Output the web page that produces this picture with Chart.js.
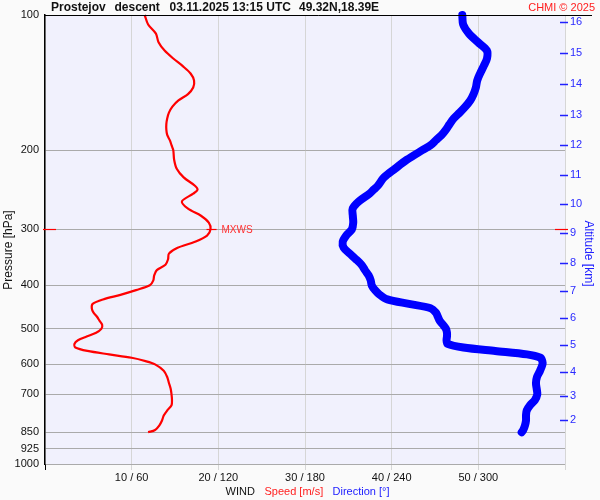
<!DOCTYPE html>
<html><head><meta charset="utf-8">
<script src="https://cdn.jsdelivr.net/npm/chart.js@4"></script>
<style>html,body{margin:0;padding:0;background:#fafafa}#c{display:block}</style>
</head><body>
<canvas id="c" width="600" height="500"></canvas>
<script>
// Pressure levels [hPa]
const pressure = [100,105,110,115,120,125,130,135,140,145,150,155,160,165,170,175,180,185,190,195,200,
  210,220,230,240,245,250,260,270,280,290,300,310,320,330,340,350,360,370,380,390,400,410,420,430,440,450,
  460,470,480,490,500,510,520,530,540,550,560,570,580,590,600,620,640,660,680,700,720,740,760,780,800,820,840,850];
// Wind speed [m/s]
const speed = [11.5,11.9,12.8,13.1,13.8,14.8,15.9,16.8,17.2,17.1,16.5,15.4,14.7,14.3,14.1,14.0,14.0,14.1,14.4,14.6,14.8,
  14.9,15.2,16.0,17.3,17.6,17.1,15.8,16.5,18.0,18.9,19.1,18.7,17.3,15.3,14.3,14.2,13.9,12.9,12.6,12.5,12.1,10.5,8.7,6.7,5.5,5.4,
  5.6,6.0,6.3,6.6,6.5,5.9,4.8,3.8,3.4,3.5,4.9,7.4,10.0,11.6,12.7,13.7,14.1,14.3,14.5,14.6,14.65,14.6,14.1,13.7,13.5,13.2,12.7,11.9];
// Wind direction [deg]
const direction = [288.9,289.5,293.5,299.8,305.9,306.0,303.7,301.2,299.2,298.3,296.7,294.4,291.0,287.1,283.0,280.1,277.6,274.6,270.7,266.9,261.2,
  250.6,242.3,234.7,230.4,227.5,224.7,217.4,213.0,213.1,213.4,212.5,208.5,206.1,206.8,211.0,215.3,219.1,221.5,224.0,225.5,226.2,228.5,231.8,237.0,252.0,267.0,
  270.6,272.0,273.3,275.6,277.6,278.3,278.3,278.0,278.7,289.7,311.7,333.7,343.0,344.3,344.4,342.7,340.6,339.9,340.4,340.8,339.2,335.8,333.5,333.0,333.0,332.3,331.1,330.0];

const pressureTicks = [100,200,300,400,500,600,700,850,925,1000];
const speedTicks = [0,10,20,30,40,50,60];
const speedTickLabels = ['','10 / 60','20 / 120','30 / 180','40 / 240','50 / 300',''];
const altitudeKm = [2,3,4,5,6,7,8,9,10,11,12,13,14,15,16];
const altitudePressure = [798.0,705.6,622.8,542.4,473.7,411.2,357.3,306.3,264.0,226.9,194.8,167.3,142.6,121.5,103.8];

const FONT = "'Liberation Sans', Arial, sans-serif";
Chart.defaults.font.family = FONT;
Chart.defaults.font.size = 11;
Chart.defaults.color = '#111';

const deco = {
  id: 'deco',
  beforeDraw(chart) {
    const {ctx, chartArea: a} = chart;
    ctx.save();
    ctx.fillStyle = '#fafafa';
    ctx.fillRect(0, 0, chart.width, chart.height);
    ctx.fillStyle = '#f1f1fd';
    ctx.fillRect(a.left, a.top, a.right - a.left, a.bottom - a.top);
    ctx.restore();
  },
  afterDraw(chart) {
    const {ctx, chartArea: a} = chart;
    const xs = chart.scales.x, ys = chart.scales.y, y2 = chart.scales.y2;
    ctx.save();
    // top line
    ctx.strokeStyle = '#000'; ctx.lineWidth = 1;
    ctx.beginPath(); ctx.moveTo(a.left, a.top + 0.5); ctx.lineTo(592, a.top + 0.5); ctx.stroke();
    // title
    ctx.fillStyle = '#111'; ctx.textBaseline = 'alphabetic'; ctx.textAlign = 'left';
    ctx.font = 'bold 12px ' + FONT;
    ctx.fillText('Prostejov', 51, 11);
    ctx.fillText('descent', 114.5, 11);
    ctx.fillText('03.11.2025 13:15 UTC', 169.5, 11);
    ctx.fillText('49.32N,18.39E', 299, 11);
    ctx.font = '11px ' + FONT; ctx.fillStyle = '#ff2020'; ctx.textAlign = 'right';
    ctx.fillText('CHMI \u00A9 2025', 595, 11);
    // bottom legend
    ctx.textAlign = 'left';
    ctx.fillStyle = '#111'; ctx.fillText('WIND', 225.5, 495);
    ctx.fillStyle = '#ff2020'; ctx.fillText('Speed [m/s]', 264.5, 495);
    ctx.fillStyle = '#2020ff'; ctx.fillText('Direction [\u00B0]', 332.5, 495);
    // axis titles
    ctx.font = '12px ' + FONT;
    ctx.save(); ctx.translate(8.5, 250); ctx.rotate(-Math.PI / 2);
    ctx.fillStyle = '#111'; ctx.textAlign = 'center'; ctx.textBaseline = 'middle';
    ctx.fillText('Pressure [hPa]', 0, 0); ctx.restore();
    ctx.save(); ctx.translate(588.5, 253.5); ctx.rotate(Math.PI / 2);
    ctx.fillStyle = '#2020ff'; ctx.textAlign = 'center'; ctx.textBaseline = 'middle';
    ctx.fillText('Altitude [km]', 0, 0); ctx.restore();
    // altitude tick dashes
    ctx.strokeStyle = '#2020ff'; ctx.lineWidth = 1.5;
    altitudePressure.forEach(p => {
      const y = Math.round(y2.getPixelForValue(p)) + 0.5;
      ctx.beginPath(); ctx.moveTo(a.right - 5, y); ctx.lineTo(a.right + 3, y); ctx.stroke();
    });
    // MXWS
    let im = 0;
    speed.forEach((s, i) => { if (s > speed[im]) im = i; });
    const my = Math.round(ys.getPixelForValue(pressure[im])) + 0.5;
    const mx = xs.getPixelForValue(speed[im]);
    ctx.strokeStyle = '#ff0000'; ctx.lineWidth = 1.2;
    ctx.beginPath(); ctx.moveTo(a.left - 2, my); ctx.lineTo(a.left + 11, my); ctx.stroke();
    ctx.beginPath(); ctx.moveTo(a.right - 10, my); ctx.lineTo(a.right + 3, my); ctx.stroke();
    ctx.beginPath(); ctx.moveTo(mx - 4, my); ctx.lineTo(mx + 6, my); ctx.stroke();
    ctx.font = '10px ' + FONT; ctx.fillStyle = '#ff3030'; ctx.textAlign = 'left'; ctx.textBaseline = 'middle';
    ctx.fillText('MXWS', mx + 11, my + 1);
    ctx.restore();
  }
};

new Chart(document.getElementById('c'), {
  type: 'scatter',
  data: {
    datasets: [
      {
        label: 'Speed',
        data: pressure.map((p, i) => ({x: speed[i], y: p})),
        xAxisID: 'x', yAxisID: 'y',
        showLine: true, borderColor: '#ff0000', borderWidth: 2.2,
        pointRadius: 0, tension: 0.3, clip: false, order: 0
      },
      {
        label: 'Direction',
        data: pressure.map((p, i) => ({x: direction[i], y: p})),
        xAxisID: 'x2', yAxisID: 'y',
        showLine: true, borderColor: '#0000ff', borderWidth: 8,
        borderCapStyle: 'round', borderJoinStyle: 'round',
        pointRadius: 0, tension: 0.3, clip: false, order: 1
      }
    ]
  },
  options: {
    responsive: false, animation: false, events: [],
    layout: {padding: {top: 15, left: 0, right: 0, bottom: 0}},
    plugins: {legend: {display: false}, tooltip: {enabled: false}, title: {display: false}},
    scales: {
      x: {
        type: 'linear', position: 'bottom', min: 0, max: 60,
        afterBuildTicks: s => { s.ticks = speedTicks.map(v => ({value: v})); },
        afterFit: s => { s.height = 36; },
        ticks: {callback: (v, i) => speedTickLabels[i], padding: 1, maxRotation: 0, autoSkip: false, color: '#111'},
        grid: {color: '#d6d6d6', tickLength: 6,
               tickColor: c => (c.tick && c.tick.value === 0) ? '#000' : '#d6d6d6'},
        border: {display: false}
      },
      x2: {type: 'linear', position: 'bottom', min: 0, max: 360, display: false},
      y: {
        type: 'logarithmic', position: 'left', reverse: true, min: 100, max: 1000,
        afterBuildTicks: s => { s.ticks = pressureTicks.map(v => ({value: v})); },
        afterFit: s => { s.width = 45; },
        ticks: {callback: v => String(v), padding: 6, autoSkip: false, color: '#111'},
        grid: {color: '#aaaaaa', drawTicks: false},
        border: {color: '#000', width: 1.5}
      },
      y2: {
        type: 'logarithmic', position: 'right', reverse: true, min: 100, max: 1000,
        afterBuildTicks: s => { s.ticks = altitudePressure.map(v => ({value: v})); },
        afterFit: s => { s.width = 35; },
        ticks: {callback: (v, i) => String(altitudeKm[i]), padding: 5, autoSkip: false, color: '#2a2aff'},
        grid: {display: false, drawTicks: false},
        border: {display: false}
      }
    }
  },
  plugins: [deco]
});
</script>
</body></html>
